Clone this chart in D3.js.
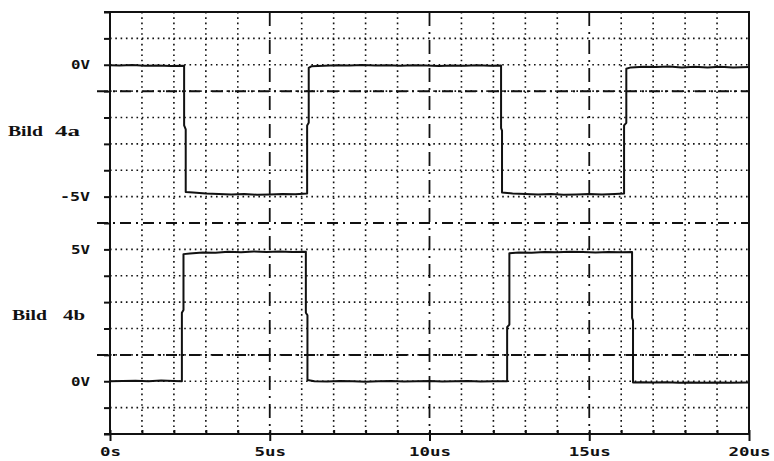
<!DOCTYPE html>
<html>
<head>
<meta charset="utf-8">
<script src="https://cdn.jsdelivr.net/npm/d3@7"></script>
<style>
  html, body { margin: 0; padding: 0; background: #fff; }
  svg { display: block; }
</style>
</head>
<body>
<svg id="chart" width="774" height="461"></svg>
<script>
// Time axis (µs) and its labels
const timeTicks = [0, 5, 10, 15, 20];
const timeTickLabels = ["0s", "5us", "10us", "15us", "20us"];

// Voltage labels shown for each trace
const voltTicksA = [0, -5];
const voltLabelsA = ["0V", "-5V"];
const voltTicksB = [5, 0];
const voltLabelsB = ["5V", "0V"];

// Trace 4a: [time µs, volts]
const traceA = [
  [0, -0.02], [0.3, -0.03], [0.7, -0.01], [1.1, -0.04], [1.5, -0.03], [1.9, -0.05], [2.32, -0.04],
  [2.32, -2.3], [2.37, -2.45], [2.37, -4.82],
  [2.6, -4.84], [3.0, -4.88], [3.4, -4.9], [3.8, -4.92], [4.2, -4.9], [4.6, -4.93], [5.0, -4.92],
  [5.4, -4.9], [5.8, -4.91], [6.17, -4.88],
  [6.17, -2.3], [6.22, -2.2], [6.22, -0.12], [6.3, -0.06],
  [6.7, -0.04], [7.1, -0.02], [7.5, -0.03], [7.9, -0.01], [8.3, -0.03], [8.7, -0.02], [9.1, -0.04],
  [9.5, -0.02], [9.9, -0.03], [10.3, -0.05], [10.7, -0.03], [11.1, -0.04], [11.5, -0.02], [11.9, -0.04], [12.24, -0.03],
  [12.24, -2.4], [12.27, -2.5], [12.27, -4.84],
  [12.6, -4.88], [13.0, -4.9], [13.4, -4.92], [13.8, -4.9], [14.2, -4.93], [14.6, -4.92], [15.0, -4.9],
  [15.4, -4.92], [15.8, -4.9], [16.09, -4.88],
  [16.09, -2.3], [16.16, -2.2], [16.16, -0.15], [16.3, -0.1],
  [16.7, -0.08], [17.1, -0.09], [17.5, -0.07], [17.9, -0.1], [18.3, -0.08], [18.7, -0.1], [19.1, -0.08],
  [19.5, -0.1], [20, -0.09]
];

// Trace 4b: [time µs, volts]
const traceB = [
  [0, 0], [0.4, 0.01], [0.8, 0.02], [1.2, 0.0], [1.6, 0.03], [2.0, 0.01], [2.25, 0.0],
  [2.25, 2.6], [2.3, 2.7], [2.3, 4.82],
  [2.5, 4.84], [2.9, 4.88], [3.3, 4.87], [3.7, 4.91], [4.1, 4.89], [4.5, 4.92], [4.9, 4.9],
  [5.3, 4.92], [5.7, 4.9], [6.13, 4.91],
  [6.13, 2.6], [6.18, 2.5], [6.18, 0.05],
  [6.4, 0.0], [6.8, -0.01], [7.2, 0.01], [7.6, 0.0], [8.0, -0.02], [8.4, 0.0], [8.8, 0.01], [9.2, -0.01],
  [9.6, 0.0], [10.0, 0.01], [10.4, -0.01], [10.8, 0.0], [11.2, 0.01], [11.6, -0.01], [12.0, 0.0], [12.43, 0.0],
  [12.43, 2.05], [12.5, 2.15], [12.5, 4.85],
  [12.8, 4.88], [13.2, 4.87], [13.6, 4.9], [14.0, 4.89], [14.4, 4.91], [14.8, 4.9], [15.2, 4.88],
  [15.6, 4.9], [16.0, 4.89], [16.34, 4.9],
  [16.34, 2.4], [16.37, 2.3], [16.37, -0.05],
  [16.6, -0.04], [17.0, -0.05], [17.4, -0.04], [17.8, -0.06], [18.2, -0.05], [18.6, -0.06], [19.0, -0.05],
  [19.4, -0.06], [20, -0.05]
];

// Threshold lines (dash-dot) per trace, in volts
const thresholdsA = [-1, -6];
const thresholdsB = [1];

const svg = d3.select("#chart");
const plotLeft = 110, plotRight = 749, plotTop = 12, plotBottom = 434;
const plotMid = plotTop + (plotBottom - plotTop) / 2;

const x = d3.scaleLinear().domain([0, 20]).range([plotLeft, plotRight]);
const yA = d3.scaleLinear().domain([2, -6]).range([plotTop, plotMid]);
const yB = d3.scaleLinear().domain([6, -2]).range([plotMid, plotBottom]);

const ink = "#111";
const dotted = "1.6,3.7";
const dashDotH = "11,5,2,5";
const dashDotV = "14,6,2,6";

const grid = svg.append("g");

// horizontal dotted grid (1 V per division)
const hRows = d3.range(1, 8).map(i => yA(2 - i)).concat(d3.range(1, 8).map(i => yB(6 - i)));
grid.selectAll("line.hdot").data(hRows).join("line")
  .attr("x1", plotLeft).attr("x2", plotRight).attr("y1", d => d).attr("y2", d => d)
  .attr("stroke", ink).attr("stroke-width", 1.6).attr("stroke-dasharray", dotted);

// vertical dotted grid (1 µs per division), dash-dot at 5 µs marks
const minor = d3.range(1, 20).filter(t => t % 5 !== 0);
grid.selectAll("line.vdot").data(minor).join("line")
  .attr("x1", d => x(d)).attr("x2", d => x(d)).attr("y1", plotTop).attr("y2", plotBottom)
  .attr("stroke", ink).attr("stroke-width", 1.6).attr("stroke-dasharray", dotted);
grid.selectAll("line.vdash").data([5, 10, 15]).join("line")
  .attr("x1", d => x(d)).attr("x2", d => x(d)).attr("y1", plotTop).attr("y2", plotBottom)
  .attr("stroke", ink).attr("stroke-width", 1.8).attr("stroke-dasharray", dashDotV);

// threshold lines
const thr = thresholdsA.map(v => yA(v)).concat(thresholdsB.map(v => yB(v)));
grid.selectAll("line.thr").data(thr).join("line")
  .attr("x1", 97).attr("x2", plotRight).attr("y1", d => d).attr("y2", d => d)
  .attr("stroke", ink).attr("stroke-width", 2).attr("stroke-dasharray", dashDotH);

// left axes with ticks every volt
function styleAxis(g) {
  g.select(".domain").remove();
  g.selectAll(".tick line").attr("stroke", ink).attr("stroke-width", 2);
  g.selectAll(".tick text")
    .attr("font-family", "'DejaVu Sans Mono', monospace")
    .attr("font-weight", "bold")
    .attr("font-size", 12)
    .attr("fill", ink);
}
const axA = svg.append("g").attr("transform", `translate(${plotLeft},0)`)
  .call(d3.axisLeft(yA).tickValues(d3.range(-6, 3)).tickSize(6).tickPadding(14)
    .tickFormat(d => { const i = voltTicksA.indexOf(d); return i >= 0 ? voltLabelsA[i] : ""; }));
styleAxis(axA);
const axB = svg.append("g").attr("transform", `translate(${plotLeft},0)`)
  .call(d3.axisLeft(yB).tickValues(d3.range(-2, 6)).tickSize(6).tickPadding(14)
    .tickFormat(d => { const i = voltTicksB.indexOf(d); return i >= 0 ? voltLabelsB[i] : ""; }));
styleAxis(axB);
[axA, axB].forEach(g => g.selectAll(".tick text").each(function () {
  const t = d3.select(this);
  const s = t.text();
  if (s) t.attr("textLength", s.length === 3 ? 30 : 19).attr("lengthAdjust", "spacingAndGlyphs");
}));

// bottom axis: minor ticks inward, major ticks with labels
const axMinor = svg.append("g").attr("transform", `translate(0,${plotBottom})`)
  .call(d3.axisBottom(x).tickValues(d3.range(0, 21)).tickSize(-4).tickFormat(""));
axMinor.select(".domain").remove();
axMinor.selectAll(".tick line").attr("stroke", ink).attr("stroke-width", 2);
const axMajor = svg.append("g").attr("transform", `translate(0,${plotBottom})`)
  .call(d3.axisBottom(x).tickValues(timeTicks).tickSize(7).tickPadding(6)
    .tickFormat((d, i) => timeTickLabels[i]));
axMajor.select(".domain").remove();
axMajor.selectAll(".tick line").attr("stroke", ink).attr("stroke-width", 2);
axMajor.selectAll(".tick text")
  .attr("font-family", "'DejaVu Sans Mono', monospace")
  .attr("font-weight", "bold")
  .attr("font-size", 12)
  .attr("fill", ink)
  .attr("textLength", (d, i) => timeTickLabels[i].length * 10.5)
  .attr("lengthAdjust", "spacingAndGlyphs");

// frame
const frame = svg.append("g").attr("stroke", ink).attr("stroke-width", 2).attr("fill", "none");
frame.append("line").attr("x1", 104).attr("x2", plotRight + 1).attr("y1", plotBottom).attr("y2", plotBottom);
frame.append("line").attr("x1", 104).attr("x2", plotRight + 1).attr("y1", plotTop).attr("y2", plotTop);
frame.append("line").attr("x1", plotLeft).attr("x2", plotLeft).attr("y1", plotTop).attr("y2", plotBottom);
frame.append("line").attr("x1", plotRight).attr("x2", plotRight).attr("y1", plotTop).attr("y2", plotBottom);

// traces
const lineA = d3.line().x(d => x(d[0])).y(d => yA(d[1]));
const lineB = d3.line().x(d => x(d[0])).y(d => yB(d[1]));
svg.append("path").datum(traceA).attr("d", lineA)
  .attr("fill", "none").attr("stroke", ink).attr("stroke-width", 2).attr("stroke-linejoin", "round");
svg.append("path").datum(traceB).attr("d", lineB)
  .attr("fill", "none").attr("stroke", ink).attr("stroke-width", 2).attr("stroke-linejoin", "round");

// figure captions
const cap = svg.append("g")
  .attr("font-family", "'Liberation Serif', serif")
  .attr("font-weight", "bold")
  .attr("font-size", 15)
  .attr("fill", ink);
const captions = [
  { s: "Bild", x: 8, y: 136, w: 35 }, { s: "4a", x: 55, y: 136, w: 25 },
  { s: "Bild", x: 12, y: 320, w: 35 }, { s: "4b", x: 63, y: 320, w: 22 }
];
cap.selectAll("text").data(captions).join("text")
  .attr("x", d => d.x).attr("y", d => d.y)
  .attr("textLength", d => d.w).attr("lengthAdjust", "spacingAndGlyphs")
  .text(d => d.s);
</script>
</body>
</html>
